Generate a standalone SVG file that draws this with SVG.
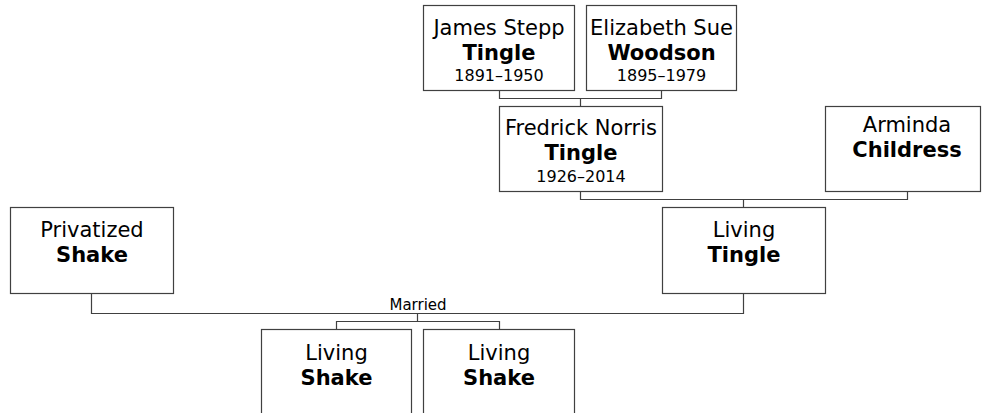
<svg xmlns="http://www.w3.org/2000/svg" width="982" height="413" viewBox="0 0 982 413">
<style>
.box{fill:#fff;stroke:#404040;stroke-width:1.2}
.ln{fill:none;stroke:#404040;stroke-width:1.2}
text{font-family:"DejaVu Sans","Verdana",sans-serif;fill:#000;text-anchor:middle}
.n{font-size:21px}
.b{font-size:21px;font-weight:bold}
.d{font-size:16px}
.m{font-size:15px}
</style>
<rect width="982" height="413" fill="#fff"/>
<g id="connectors">
<path class="ln" d="M499.5,90.5 V98.5 H661.5 V90.5 M580.5,98.5 V106.5"/>
<path class="ln" d="M580.5,191.5 V199.5 H907.5 V191.5 M743.5,199.5 V207.5"/>
<path class="ln" d="M91.5,293.5 V313.5 H743.5 V293.5 M417.5,313.5 V321.5 M336.5,329.5 V321.5 H499.5 V329.5"/>
<text class="m" x="418" y="310">Married</text>
</g>
<g id="james">
<rect class="box" x="423.5" y="5.5" width="151" height="85"/>
<text class="n" x="499" y="35">James Stepp</text>
<text class="b" x="499" y="60">Tingle</text>
<text class="d" x="499" y="81">1891–1950</text>
</g>
<g id="elizabeth">
<rect class="box" x="586.5" y="5.5" width="150" height="85"/>
<text class="n" x="661.5" y="35">Elizabeth Sue</text>
<text class="b" x="661.5" y="60">Woodson</text>
<text class="d" x="661.5" y="81">1895–1979</text>
</g>
<g id="fredrick">
<rect class="box" x="499.5" y="106.5" width="163" height="85"/>
<text class="n" x="581" y="135">Fredrick Norris</text>
<text class="b" x="581" y="160">Tingle</text>
<text class="d" x="581" y="181.5">1926–2014</text>
</g>
<g id="arminda">
<rect class="box" x="825.5" y="106.5" width="155" height="85"/>
<text class="n" x="907" y="131.5">Arminda</text>
<text class="b" x="907" y="157">Childress</text>
</g>
<g id="livingTingle">
<rect class="box" x="662.5" y="207.5" width="163" height="86"/>
<text class="n" x="744" y="237">Living</text>
<text class="b" x="744" y="262">Tingle</text>
</g>
<g id="privatized">
<rect class="box" x="10.5" y="207.5" width="163" height="86"/>
<text class="n" x="92" y="237">Privatized</text>
<text class="b" x="92" y="262">Shake</text>
</g>
<g id="child1">
<rect class="box" x="261.5" y="329.5" width="150" height="90"/>
<text class="n" x="336.5" y="360">Living</text>
<text class="b" x="336.5" y="384.5">Shake</text>
</g>
<g id="child2">
<rect class="box" x="423.5" y="329.5" width="151" height="90"/>
<text class="n" x="499" y="360">Living</text>
<text class="b" x="499" y="384.5">Shake</text>
</g>
</svg>
